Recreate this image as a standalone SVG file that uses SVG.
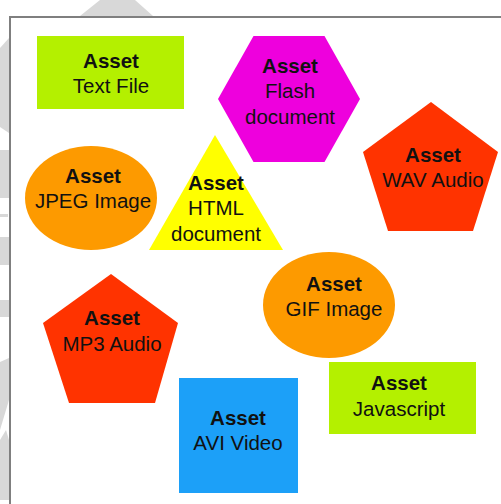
<svg xmlns="http://www.w3.org/2000/svg" width="501" height="504" viewBox="0 0 501 504">
<style>
text{font-family:"Liberation Sans",Arial,sans-serif;font-size:20.5px;fill:#111;text-anchor:middle}
.b{font-weight:bold}
.wm{fill:#d8d8d8}
.lime{fill:#b4f000}
.red{fill:#ff3300}
.orange{fill:#fd9a00}
</style>
<rect width="501" height="504" fill="#fff"/>
<g id="watermark">
<polygon class="wm" points="100,0 135,0 153,16 80,16"/>
<polygon class="wm" points="9,38 9,133 0,127 0,48"/>
<rect class="wm" x="0" y="150" width="9" height="48"/>
<rect class="wm" x="0" y="214" width="8" height="3"/>
<rect class="wm" x="0" y="237" width="9" height="28"/>
<rect class="wm" x="0" y="300" width="9" height="17"/>
<polygon class="wm" points="9,358 9,400 3,420 0,430 0,362"/>
<polygon class="wm" points="0,440 6,430 9,440 9,500 0,500"/>
</g>
<path d="M10,504 V17 H501" fill="none" stroke="#7f7f7f" stroke-width="2"/>
<g id="textfile">
<rect class="lime" x="37" y="36" width="147" height="73"/>
<text class="b" x="111" y="68">Asset</text>
<text x="111" y="93">Text File</text>
</g>
<g id="flash">
<polygon fill="#ee00dd" points="218,99 253.5,36 324.5,36 360,99 324.5,162 253.5,162"/>
<text class="b" x="290" y="73">Asset</text>
<text x="290" y="98">Flash</text>
<text x="290" y="124">document</text>
</g>
<g id="wav">
<polygon class="red" points="431,102 498,152 473,231 388,231 363,152"/>
<text class="b" x="433" y="162">Asset</text>
<text x="433" y="187">WAV Audio</text>
</g>
<g id="jpeg">
<ellipse class="orange" cx="91" cy="198" rx="66" ry="52"/>
<text class="b" x="93" y="183">Asset</text>
<text x="93" y="208">JPEG Image</text>
</g>
<g id="html">
<polygon fill="#ffff00" points="215,135 283,250 149,250"/>
<text class="b" x="216" y="190">Asset</text>
<text x="216" y="215">HTML</text>
<text x="216" y="241">document</text>
</g>
<g id="gif">
<ellipse class="orange" cx="329" cy="305" rx="66" ry="53"/>
<text class="b" x="334" y="291">Asset</text>
<text x="334" y="316">GIF Image</text>
</g>
<g id="mp3">
<polygon class="red" points="111,274 178,323 155,403 69,403 43,323"/>
<text class="b" x="112" y="325">Asset</text>
<text x="112" y="351">MP3 Audio</text>
</g>
<g id="avi">
<rect fill="#1ca0f8" x="179" y="378" width="119" height="115"/>
<text class="b" x="238" y="425">Asset</text>
<text x="238" y="450">AVI Video</text>
</g>
<g id="javascript">
<rect class="lime" x="329" y="362" width="147" height="72"/>
<text class="b" x="399" y="390">Asset</text>
<text x="399" y="416">Javascript</text>
</g>
<g id="connectors"/>
</svg>
